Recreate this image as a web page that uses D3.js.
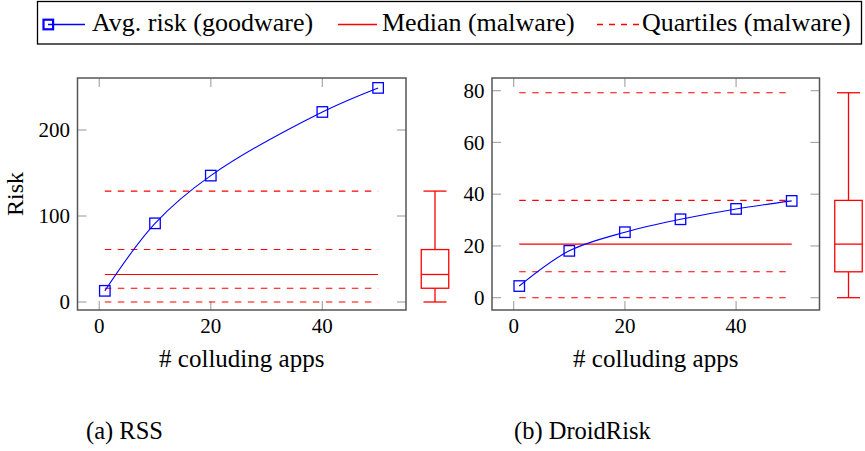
<!DOCTYPE html>
<html>
<head>
<meta charset="utf-8">
<script src="https://cdn.jsdelivr.net/npm/d3@7"></script>
<style>
  body { margin: 0; background: #fff; }
</style>
</head>
<body>
<div id="chart"></div>
<script>
// data
var colluding = [1, 10, 20, 40, 50];
var rssRisk = [13, 91.5, 147, 221, 249];
var rssBox = [0, 16, 32, 61, 129];            // min, q1, median, q3, max (malware)

var droidColluding = [1, 10, 20, 30, 40, 50];
var droidRisk = [4.5, 18.1, 25.3, 30.3, 34.3, 37.4];
var droidBox = [0, 10, 20.7, 37.6, 79.2];

var rssTicksY = [0, 100, 200];
var droidTicksY = [0, 20, 40, 60, 80];
var ticksX = [0, 20, 40];

var legendLabels = ["Avg. risk (goodware)", "Median (malware)", "Quartiles (malware)"];
var captions = ["(a) RSS", "(b) DroidRisk"];

var svgWidth = 865;
var svgHeight = 451;
var blue = "#0000ff";
var red = "#ff0000";

var svg = d3.select("#chart")
    .append("svg")
    .attr("width", svgWidth)
    .attr("height", svgHeight)
    .style("font-family", "'Liberation Serif', serif");

var panels = [
    {x: colluding, y: rssRisk, box: rssBox, ticksY: rssTicksY, caption: captions[0], capX: 86,
     left: 77.5, right: 406, top: 78, bottom: 310, yDomain: [-9.3, 260.5], ylabel: "Risk"},
    {x: droidColluding, y: droidRisk, box: droidBox, ticksY: droidTicksY, caption: captions[1], capX: 514,
     left: 492, right: 819.5, top: 78, bottom: 310, yDomain: [-4.76, 84.9], ylabel: null}
];

panels.forEach(function(p) {
    var xScale = d3.scaleLinear().domain([-3.9, 55]).range([p.left, p.right]);
    var yScale = d3.scaleLinear().domain(p.yDomain).range([p.bottom, p.top]);
    var g = svg.append("g");

    // ticks inside the frame on all sides
    var tickLen = 9;
    var tickCol = "#a8a8a8";
    g.selectAll(".tx").data(ticksX).enter().append("line")
        .attr("x1", d => xScale(d)).attr("x2", d => xScale(d))
        .attr("y1", p.bottom).attr("y2", p.bottom - tickLen)
        .attr("stroke", tickCol).attr("stroke-width", 1.2);
    g.selectAll(".txt").data(ticksX).enter().append("line")
        .attr("x1", d => xScale(d)).attr("x2", d => xScale(d))
        .attr("y1", p.top).attr("y2", p.top + tickLen)
        .attr("stroke", tickCol).attr("stroke-width", 1.2);
    g.selectAll(".ty").data(p.ticksY).enter().append("line")
        .attr("x1", p.left).attr("x2", p.left + tickLen)
        .attr("y1", d => yScale(d)).attr("y2", d => yScale(d))
        .attr("stroke", tickCol).attr("stroke-width", 1.2);
    g.selectAll(".tyr").data(p.ticksY).enter().append("line")
        .attr("x1", p.right).attr("x2", p.right - tickLen)
        .attr("y1", d => yScale(d)).attr("y2", d => yScale(d))
        .attr("stroke", tickCol).attr("stroke-width", 1.2);

    // tick labels
    g.selectAll(".lx").data(ticksX).enter().append("text")
        .attr("x", d => xScale(d)).attr("y", p.bottom + 23)
        .attr("text-anchor", "middle").attr("font-size", "21px")
        .text(d => d);
    g.selectAll(".ly").data(p.ticksY).enter().append("text")
        .attr("x", p.left - 7.5).attr("y", d => yScale(d) + 7.3)
        .attr("text-anchor", "end").attr("font-size", "21px")
        .text(d => d);

    // malware reference lines across the data range
    var x0 = xScale(d3.min(p.x));
    var x1 = xScale(d3.max(p.x));
    [0, 1, 3, 4].forEach(function(i) {
        g.append("line")
            .attr("x1", x0).attr("x2", x1)
            .attr("y1", yScale(p.box[i])).attr("y2", yScale(p.box[i]))
            .attr("stroke", red).attr("stroke-width", 1.1)
            .attr("stroke-dasharray", "6.5,6.5");
    });
    g.append("line")
        .attr("x1", x0).attr("x2", x1)
        .attr("y1", yScale(p.box[2])).attr("y2", yScale(p.box[2]))
        .attr("stroke", red).attr("stroke-width", 1.1);

    // goodware curve
    var pts = p.x.map((d, i) => [d, p.y[i]]);
    var line = d3.line()
        .x(d => xScale(d[0])).y(d => yScale(d[1]))
        .curve(d3.curveCatmullRom.alpha(0.5));
    g.append("path").datum(pts)
        .attr("d", line)
        .attr("fill", "none").attr("stroke", blue).attr("stroke-width", 1.1);
    var ms = 10.5;
    g.selectAll(".mk").data(pts).enter().append("rect")
        .attr("x", d => xScale(d[0]) - ms / 2).attr("y", d => yScale(d[1]) - ms / 2)
        .attr("width", ms).attr("height", ms)
        .attr("fill", "none").attr("stroke", blue).attr("stroke-width", 1.3);

    // frame
    g.append("rect")
        .attr("x", p.left).attr("y", p.top)
        .attr("width", p.right - p.left).attr("height", p.bottom - p.top)
        .attr("fill", "none").attr("stroke", "#555").attr("stroke-width", 1.5);

    // box plot to the right of the axis
    var bc = p.right + 29;
    var bw = 27.5;
    var cw = 23;
    var b = g.append("g").attr("stroke", red).attr("stroke-width", 1.3).attr("fill", "none");
    b.append("line").attr("x1", bc).attr("x2", bc).attr("y1", yScale(p.box[0])).attr("y2", yScale(p.box[1]));
    b.append("line").attr("x1", bc).attr("x2", bc).attr("y1", yScale(p.box[3])).attr("y2", yScale(p.box[4]));
    b.append("line").attr("x1", bc - cw / 2).attr("x2", bc + cw / 2).attr("y1", yScale(p.box[0])).attr("y2", yScale(p.box[0]));
    b.append("line").attr("x1", bc - cw / 2).attr("x2", bc + cw / 2).attr("y1", yScale(p.box[4])).attr("y2", yScale(p.box[4]));
    b.append("rect")
        .attr("x", bc - bw / 2).attr("y", yScale(p.box[3]))
        .attr("width", bw).attr("height", yScale(p.box[1]) - yScale(p.box[3]));
    b.append("line").attr("x1", bc - bw / 2).attr("x2", bc + bw / 2).attr("y1", yScale(p.box[2])).attr("y2", yScale(p.box[2]));

    // axis labels
    g.append("text")
        .attr("x", (p.left + p.right) / 2).attr("y", 366.5)
        .attr("text-anchor", "middle").attr("font-size", "25px")
        .text("# colluding apps");
    if (p.ylabel) {
        g.append("text")
            .attr("transform", "translate(23," + ((p.top + p.bottom) / 2) + ") rotate(-90)")
            .attr("text-anchor", "middle").attr("font-size", "24px")
            .text(p.ylabel);
    }
    g.append("text")
        .attr("x", p.capX).attr("y", 439)
        .attr("font-size", "24.5px")
        .text(p.caption);
});

// legend
var lg = svg.append("g");
lg.append("rect")
    .attr("x", 37.5).attr("y", 1.5).attr("width", 824).attr("height", 42.5)
    .attr("fill", "#fff").attr("stroke", "#000").attr("stroke-width", 1.3);
var ly = 24.5;
lg.append("line").attr("x1", 48).attr("x2", 85).attr("y1", ly).attr("y2", ly)
    .attr("stroke", blue).attr("stroke-width", 1.3);
lg.append("rect").attr("x", 43.5).attr("y", ly - 4.8).attr("width", 9.6).attr("height", 9.6)
    .attr("fill", "none").attr("stroke", blue).attr("stroke-width", 2.2);
lg.append("line").attr("x1", 338).attr("x2", 377).attr("y1", ly).attr("y2", ly)
    .attr("stroke", red).attr("stroke-width", 1.3);
lg.append("line").attr("x1", 597).attr("x2", 639).attr("y1", ly).attr("y2", ly)
    .attr("stroke", red).attr("stroke-width", 1.3).attr("stroke-dasharray", "6,6");
var legendX = [92, 382, 642];
lg.selectAll(".lt").data(legendLabels).enter().append("text")
    .attr("x", (d, i) => legendX[i]).attr("y", 31)
    .attr("font-size", "26px")
    .text(d => d);
</script>
</body>
</html>
